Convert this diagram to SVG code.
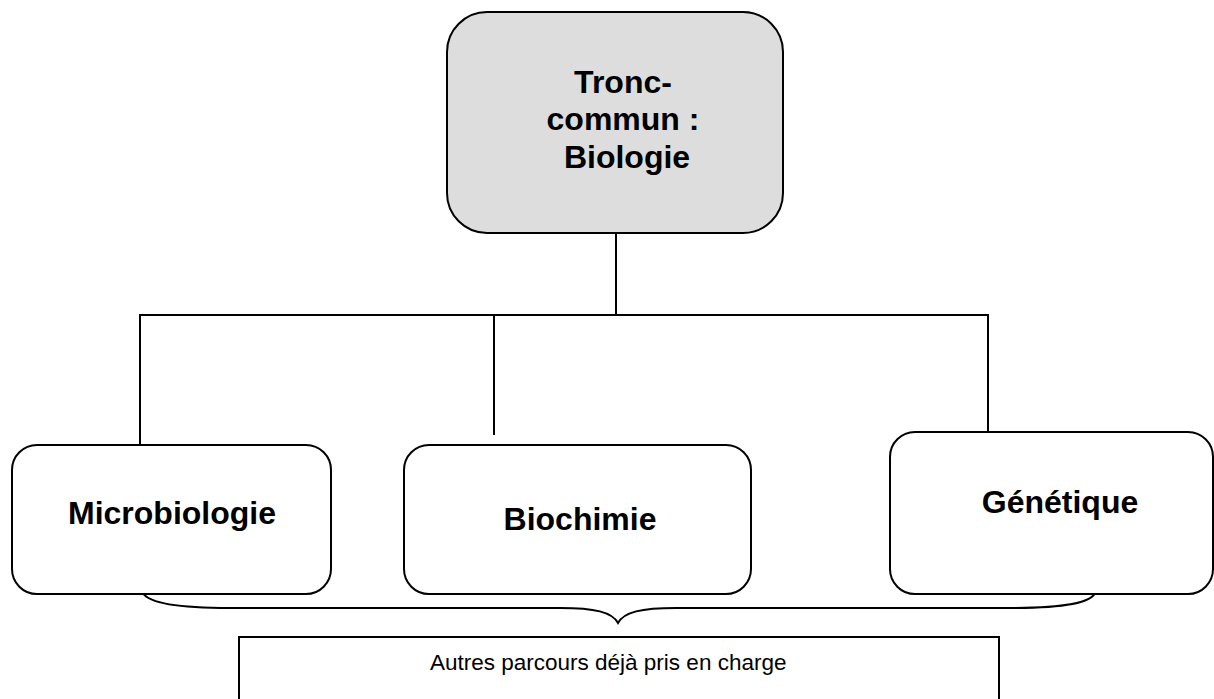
<svg xmlns="http://www.w3.org/2000/svg" width="1214" height="699" viewBox="0 0 1214 699">
<style>
.box{fill:#ffffff;stroke:#000;stroke-width:2}
.root{fill:#dddddd;stroke:#000;stroke-width:2}
.lbl{font-family:"Liberation Sans",Arial,sans-serif;font-weight:bold;font-size:32px;fill:#000;text-anchor:middle}
.conn line,.conn path{stroke:#000;stroke-width:2;fill:none}
.small{font-family:"Liberation Sans",Arial,sans-serif;font-size:22.5px;fill:#000}
</style>
<rect width="1214" height="699" fill="#fff"/>
<g class="conn" id="connectors">
<line x1="616" y1="233" x2="616" y2="315"/>
<line x1="139" y1="315" x2="989" y2="315"/>
<line x1="140" y1="315" x2="140" y2="446"/>
<line x1="494" y1="315" x2="494" y2="435"/>
<line x1="988" y1="315" x2="988" y2="432"/>
<path d="M143,593 C150,605 190,608 230,608 L560,608 C595,608 612,612 618,623 C624,612 641,608 676,608 L1010,608 C1050,608 1090,605 1095,593"/>
</g>
<g id="tronc">
<rect class="root" x="447" y="12" width="336" height="221" rx="40"/>
<text class="lbl" x="623" y="93">Tronc-</text>
<text class="lbl" x="623" y="130">commun :</text>
<text class="lbl" x="627" y="168">Biologie</text>
</g>
<g id="microbiologie">
<rect class="box" x="12" y="445" width="319" height="149" rx="25"/>
<text class="lbl" x="172" y="524">Microbiologie</text>
</g>
<g id="biochimie">
<rect class="box" x="404" y="445" width="347" height="149" rx="25"/>
<text class="lbl" x="580" y="530">Biochimie</text>
</g>
<g id="genetique">
<rect class="box" x="890" y="432" width="323" height="162" rx="25"/>
<text class="lbl" x="1060" y="513">Génétique</text>
</g>
<g id="autres">
<rect x="239" y="637" width="760" height="80" fill="#fff" stroke="#000" stroke-width="2"/>
<text class="small" x="430" y="670">Autres parcours déjà pris en charge</text>
</g>
</svg>
